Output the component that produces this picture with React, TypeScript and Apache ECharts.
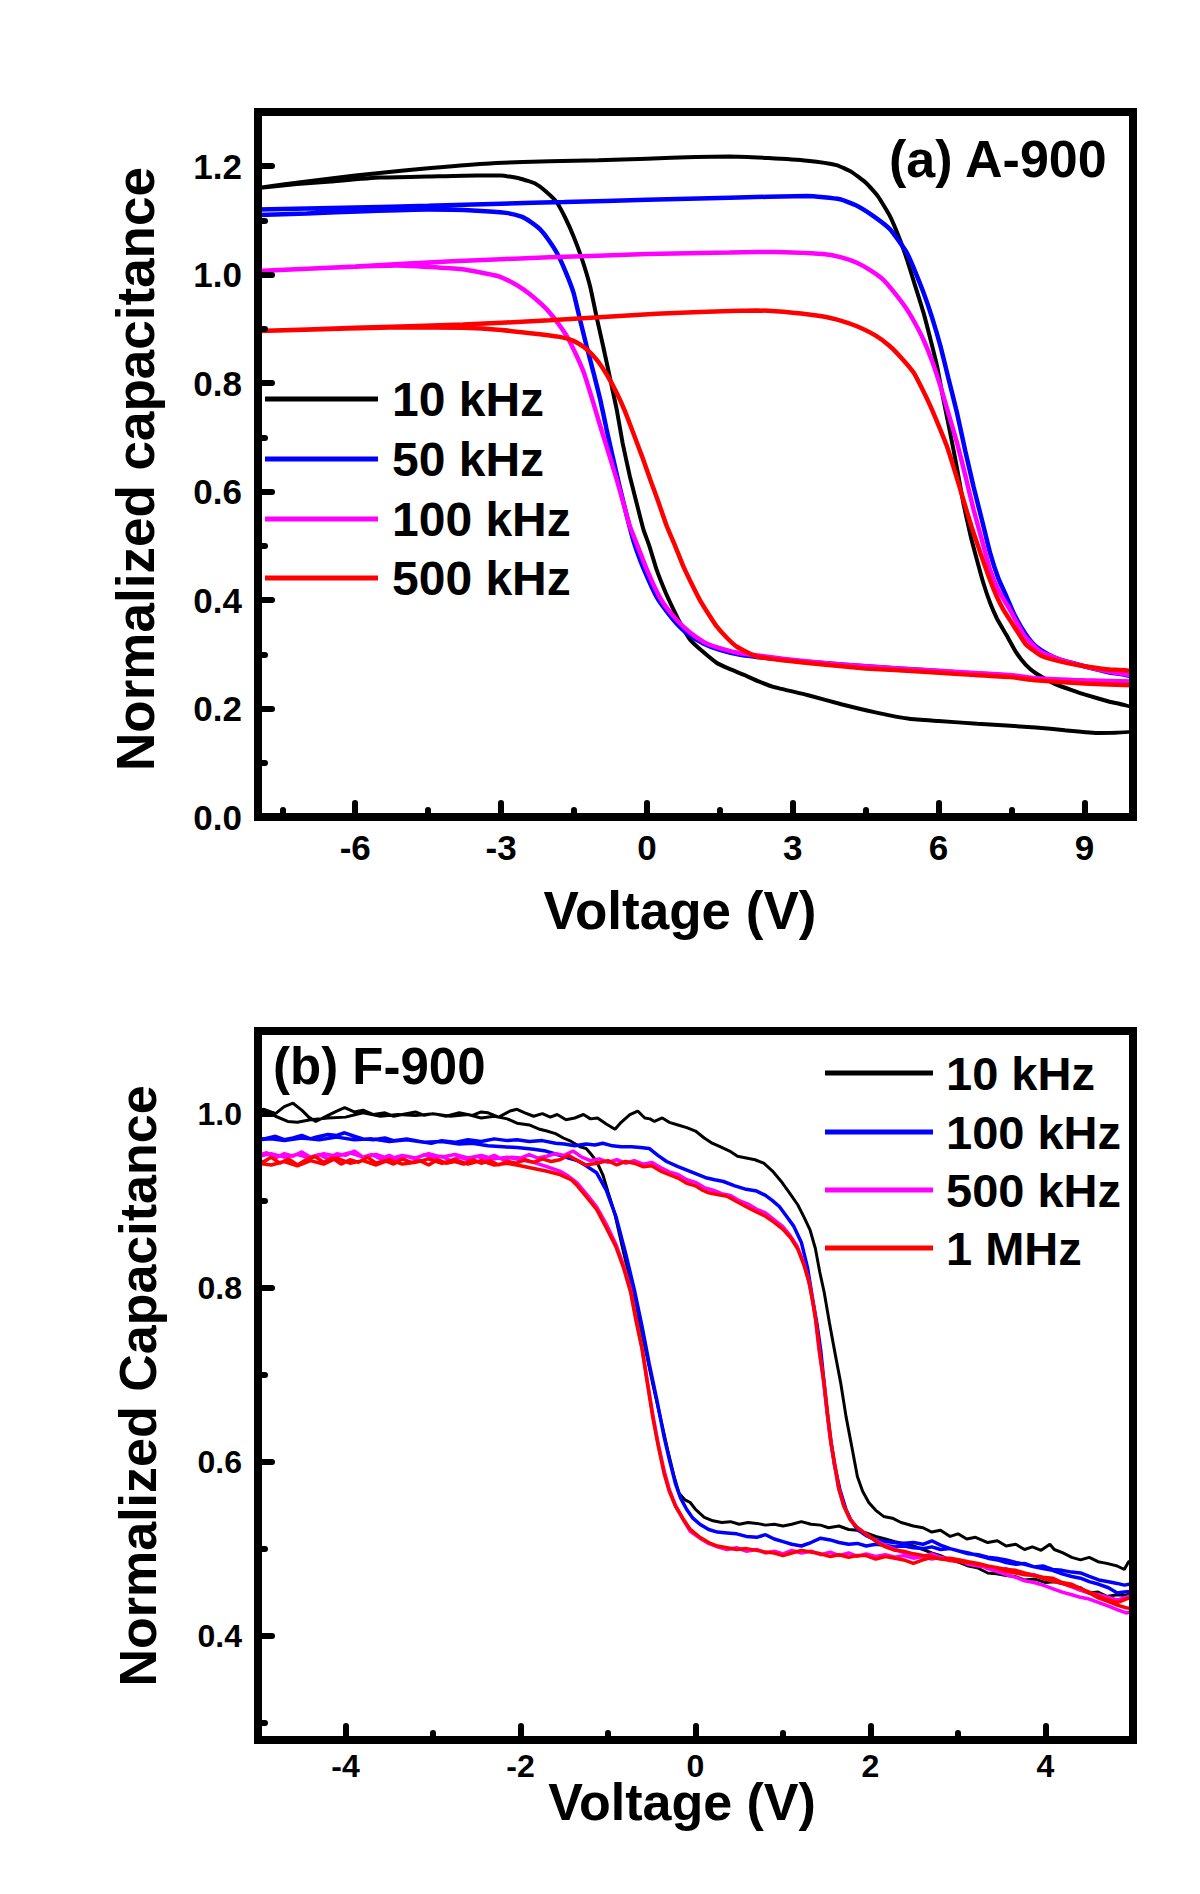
import React, { useEffect, useRef } from 'react';
import * as echarts from 'echarts';

const FONT = '"Liberation Sans", Arial, Helvetica, sans-serif';

// ---------- Panel (a) A-900 ----------
const A_X_MAJOR = [-6, -3, 0, 3, 6, 9];
const A_X_MINOR = [-7.5, -4.5, -1.5, 1.5, 4.5, 7.5];
const A_Y_MAJOR = [0, 0.2, 0.4, 0.6, 0.8, 1.0, 1.2];
const A_Y_MINOR = [0.1, 0.3, 0.5, 0.7, 0.9, 1.1];
const A_NAMES = ['10 kHz', '50 kHz', '100 kHz', '500 kHz'];

const A10_UP = [[-8,1.16],[-7,1.172],[-6,1.183],[-5,1.192],[-4,1.2],[-3.1,1.206],[-2,1.209],[-1,1.211],[0,1.214],[1,1.217],[1.7,1.218],[2.5,1.215],[3.3,1.21],[3.9,1.202],[4.2,1.19],[4.5,1.17],[4.75,1.145],[5.0,1.108],[5.2,1.066],[5.35,1.028],[5.5,0.985],[5.69,0.93],[5.85,0.875],[5.97,0.831],[6.1,0.77],[6.24,0.708],[6.38,0.643],[6.51,0.579],[6.65,0.522],[6.79,0.474],[6.92,0.432],[7.06,0.395],[7.2,0.366],[7.4,0.335],[7.6,0.303],[7.8,0.28],[8.0,0.265],[8.4,0.245],[8.8,0.232],[9.0,0.226],[9.5,0.213],[10,0.2]];
const A10_DOWN = [[10,0.158],[9.3,0.155],[8.6,0.16],[8.0,0.165],[6.8,0.172],[6.0,0.177],[5.4,0.181],[4.7,0.193],[4.0,0.208],[3.3,0.225],[2.6,0.24],[2.3,0.25],[2.0,0.262],[1.7,0.273],[1.44,0.284],[1.15,0.305],[0.89,0.327],[0.7,0.355],[0.55,0.382],[0.38,0.415],[0.2,0.456],[0.05,0.5],[-0.07,0.53],[-0.2,0.575],[-0.35,0.628],[-0.5,0.69],[-0.62,0.751],[-0.76,0.81],[-0.9,0.868],[-1.03,0.92],[-1.17,0.979],[-1.34,1.03],[-1.51,1.071],[-1.68,1.105],[-1.85,1.133],[-2.06,1.152],[-2.3,1.168],[-2.6,1.177],[-3.0,1.183],[-3.5,1.183],[-4.5,1.181],[-5.5,1.179],[-6.5,1.172],[-7.2,1.167],[-8,1.16]];

const A50_UP = [[-8,1.12],[-6,1.124],[-4.5,1.127],[-3,1.131],[-1.7,1.134],[0,1.138],[1.7,1.142],[3.3,1.145],[3.97,1.139],[4.3,1.128],[4.66,1.108],[5.0,1.084],[5.2,1.06],[5.35,1.04],[5.5,1.01],[5.69,0.967],[5.87,0.92],[6.04,0.868],[6.2,0.81],[6.38,0.745],[6.55,0.675],[6.72,0.609],[6.9,0.545],[7.06,0.487],[7.23,0.44],[7.4,0.406],[7.55,0.375],[7.7,0.35],[7.85,0.33],[8.0,0.315],[8.25,0.3],[8.5,0.29],[9.0,0.278],[9.5,0.267],[10,0.258]];
const A50_DOWN = [[10,0.245],[9.0,0.248],[8.0,0.254],[7.47,0.26],[6.5,0.266],[5.69,0.271],[4.5,0.278],[3.63,0.284],[2.8,0.29],[1.92,0.299],[1.5,0.308],[1.16,0.32],[0.85,0.337],[0.61,0.357],[0.4,0.38],[0.2,0.406],[0.03,0.438],[-0.14,0.474],[-0.28,0.51],[-0.41,0.554],[-0.55,0.605],[-0.69,0.659],[-0.83,0.715],[-0.96,0.77],[-1.1,0.82],[-1.24,0.868],[-1.37,0.915],[-1.51,0.967],[-1.68,1.007],[-1.85,1.04],[-2.03,1.065],[-2.2,1.084],[-2.4,1.098],[-2.58,1.107],[-2.9,1.114],[-3.5,1.118],[-4.5,1.12],[-5.8,1.117],[-7,1.113],[-8,1.11]];

const A100_UP = [[-8,1.007],[-6,1.015],[-4,1.025],[-2,1.032],[0,1.038],[1.7,1.041],[2.3,1.042],[3.0,1.041],[3.63,1.038],[4.0,1.032],[4.32,1.022],[4.6,1.008],[4.86,0.991],[5.1,0.966],[5.35,0.936],[5.52,0.91],[5.69,0.88],[5.87,0.84],[6.04,0.794],[6.2,0.745],[6.38,0.69],[6.55,0.63],[6.72,0.567],[6.9,0.508],[7.06,0.456],[7.25,0.415],[7.47,0.382],[7.65,0.352],[7.8,0.33],[8.1,0.305],[8.5,0.29],[9.0,0.278],[9.5,0.268],[10,0.26]];
const A100_DOWN = [[10,0.25],[9.0,0.252],[8.0,0.256],[7.47,0.262],[6.5,0.267],[5.5,0.272],[4.5,0.278],[3.63,0.284],[2.8,0.292],[1.92,0.302],[1.55,0.31],[1.23,0.32],[0.98,0.334],[0.75,0.351],[0.55,0.37],[0.34,0.394],[0.17,0.422],[0.0,0.456],[-0.17,0.495],[-0.35,0.536],[-0.48,0.578],[-0.62,0.622],[-0.79,0.672],[-0.96,0.721],[-1.13,0.772],[-1.3,0.82],[-1.47,0.855],[-1.65,0.887],[-1.85,0.913],[-2.06,0.936],[-2.3,0.956],[-2.54,0.973],[-2.8,0.987],[-3.09,0.998],[-3.8,1.01],[-5.15,1.017],[-6.5,1.013],[-8,1.007]];

const A500_UP = [[-8,0.896],[-6,0.902],[-3.78,0.908],[-2,0.916],[0.2,0.928],[1.71,0.933],[2.26,0.934],[3.0,0.93],[3.63,0.923],[4.0,0.915],[4.32,0.905],[4.7,0.888],[5.0,0.868],[5.25,0.845],[5.49,0.819],[5.66,0.79],[5.83,0.758],[6.0,0.722],[6.17,0.684],[6.34,0.636],[6.51,0.585],[6.68,0.535],[6.86,0.487],[7.03,0.444],[7.2,0.406],[7.33,0.383],[7.47,0.363],[7.65,0.338],[7.8,0.318],[8.1,0.298],[8.5,0.287],[9.0,0.278],[9.5,0.272],[10,0.268]];
const A500_DOWN = [[10,0.243],[9.0,0.246],[8.0,0.252],[7.47,0.258],[6.5,0.263],[5.69,0.268],[4.5,0.274],[3.63,0.281],[2.8,0.289],[2.26,0.296],[1.85,0.314],[1.65,0.33],[1.44,0.351],[1.27,0.374],[1.09,0.4],[0.92,0.43],[0.75,0.462],[0.58,0.5],[0.41,0.536],[0.24,0.58],[0.07,0.622],[-0.1,0.665],[-0.28,0.708],[-0.45,0.748],[-0.62,0.782],[-0.82,0.815],[-1.03,0.843],[-1.27,0.865],[-1.51,0.878],[-1.72,0.884],[-2.2,0.89],[-3,0.898],[-3.78,0.902],[-5,0.903],[-6.5,0.9],[-8,0.896]];

// ---------- Panel (b) F-900 ----------
const B_X_MAJOR = [-4, -2, 0, 2, 4];
const B_X_MINOR = [-3, -1, 1, 3];
const B_Y_MAJOR = [0.4, 0.6, 0.8, 1.0];
const B_Y_MINOR = [0.3, 0.5, 0.7, 0.9];
const B_NAMES = ['10 kHz', '100 kHz', '500 kHz', '1 MHz'];

const B10_UP = [[-5,1.003],[-4.93,1.005],[-4.8,1.0],[-4.7,1.008],[-4.6,1.012],[-4.5,1.004],[-4.42,0.996],[-4.34,0.991],[-4.2,0.998],[-4.1,1.003],[-4.01,1.007],[-3.9,1.002],[-3.8,1.004],[-3.68,0.999],[-3.55,1.001],[-3.45,0.997],[-3.35,0.999],[-3.2,1.002],[-3.1,0.998],[-3.0,1.0],[-2.85,0.997],[-2.7,1.001],[-2.55,0.998],[-2.45,1.002],[-2.37,1.001],[-2.25,0.996],[-2.12,1.003],[-2.04,1.005],[-1.95,1.001],[-1.85,0.997],[-1.75,1.0],[-1.66,0.996],[-1.58,0.999],[-1.48,0.993],[-1.38,0.995],[-1.28,0.999],[-1.2,0.994],[-1.12,0.995],[-1.02,0.988],[-0.92,0.982],[-0.85,0.99],[-0.75,0.999],[-0.66,1.003],[-0.58,0.995],[-0.52,0.994],[-0.47,0.991],[-0.38,0.995],[-0.3,0.99],[-0.2,0.987],[-0.1,0.984],[0.0,0.98],[0.1,0.972],[0.19,0.966],[0.28,0.962],[0.39,0.957],[0.48,0.951],[0.58,0.949],[0.68,0.947],[0.78,0.943],[0.88,0.934],[0.98,0.922],[1.08,0.908],[1.17,0.895],[1.24,0.881],[1.31,0.866],[1.37,0.845],[1.42,0.818],[1.47,0.795],[1.53,0.76],[1.59,0.727],[1.66,0.69],[1.72,0.652],[1.79,0.615],[1.85,0.583],[1.91,0.566],[1.98,0.553],[2.06,0.544],[2.15,0.537],[2.25,0.535],[2.35,0.53],[2.49,0.526],[2.6,0.524],[2.7,0.519],[2.8,0.521],[2.91,0.514],[3.0,0.517],[3.1,0.511],[3.2,0.513],[3.34,0.507],[3.45,0.509],[3.55,0.503],[3.66,0.505],[3.76,0.499],[3.85,0.502],[3.95,0.498],[4.05,0.505],[4.1,0.499],[4.2,0.495],[4.3,0.49],[4.4,0.487],[4.5,0.49],[4.6,0.485],[4.7,0.483],[4.82,0.48],[4.9,0.476],[4.95,0.485],[5.0,0.486]];
const B10_DOWN = [[5.0,0.453],[4.92,0.446],[4.82,0.447],[4.7,0.445],[4.6,0.45],[4.49,0.449],[4.4,0.455],[4.3,0.457],[4.19,0.46],[4.1,0.462],[4.0,0.461],[3.88,0.465],[3.76,0.464],[3.65,0.468],[3.55,0.469],[3.44,0.471],[3.34,0.472],[3.22,0.478],[3.12,0.48],[3.02,0.484],[2.91,0.487],[2.8,0.492],[2.7,0.495],[2.6,0.499],[2.49,0.503],[2.38,0.506],[2.28,0.508],[2.17,0.511],[2.06,0.514],[1.95,0.518],[1.85,0.521],[1.75,0.522],[1.64,0.526],[1.52,0.524],[1.43,0.527],[1.32,0.528],[1.21,0.531],[1.1,0.528],[1.0,0.526],[0.9,0.528],[0.8,0.527],[0.7,0.529],[0.6,0.53],[0.5,0.528],[0.4,0.531],[0.3,0.53],[0.2,0.532],[0.1,0.536],[0.0,0.545],[-0.06,0.553],[-0.12,0.556],[-0.19,0.564],[-0.25,0.585],[-0.32,0.614],[-0.4,0.65],[-0.49,0.69],[-0.57,0.728],[-0.66,0.767],[-0.74,0.806],[-0.83,0.844],[-0.92,0.884],[-1.0,0.91],[-1.06,0.93],[-1.13,0.945],[-1.19,0.953],[-1.25,0.96],[-1.32,0.962],[-1.42,0.968],[-1.51,0.972],[-1.6,0.977],[-1.7,0.98],[-1.78,0.982],[-1.9,0.987],[-2.04,0.989],[-2.15,0.994],[-2.3,0.997],[-2.45,0.995],[-2.6,0.999],[-2.8,0.997],[-3.0,1.0],[-3.2,0.998],[-3.4,0.999],[-3.6,0.997],[-3.8,1.001],[-4.0,0.996],[-4.2,0.995],[-4.4,0.993],[-4.55,0.99],[-4.66,0.991],[-4.8,0.997],[-4.9,1.002],[-5.0,1.003]];

const B100_UP = [[-5,0.972],[-4.93,0.971],[-4.8,0.974],[-4.7,0.97],[-4.6,0.972],[-4.5,0.975],[-4.4,0.971],[-4.34,0.973],[-4.2,0.976],[-4.1,0.975],[-4.01,0.978],[-3.9,0.974],[-3.8,0.971],[-3.68,0.97],[-3.55,0.972],[-3.45,0.969],[-3.3,0.971],[-3.15,0.968],[-3.02,0.966],[-2.9,0.969],[-2.75,0.967],[-2.6,0.97],[-2.45,0.968],[-2.3,0.971],[-2.15,0.969],[-2.04,0.97],[-1.9,0.968],[-1.75,0.969],[-1.6,0.966],[-1.5,0.965],[-1.38,0.963],[-1.25,0.965],[-1.15,0.964],[-1.06,0.966],[-0.95,0.963],[-0.85,0.962],[-0.73,0.962],[-0.63,0.961],[-0.53,0.96],[-0.43,0.952],[-0.33,0.945],[-0.2,0.939],[-0.07,0.934],[0.03,0.93],[0.13,0.926],[0.22,0.924],[0.32,0.922],[0.45,0.917],[0.58,0.913],[0.7,0.911],[0.8,0.906],[0.88,0.9],[0.96,0.893],[1.04,0.882],[1.12,0.871],[1.21,0.852],[1.28,0.823],[1.34,0.786],[1.39,0.757],[1.43,0.729],[1.47,0.69],[1.51,0.652],[1.55,0.622],[1.59,0.595],[1.65,0.568],[1.72,0.545],[1.78,0.532],[1.85,0.522],[1.95,0.515],[2.06,0.51],[2.2,0.508],[2.35,0.506],[2.49,0.507],[2.6,0.505],[2.7,0.509],[2.8,0.504],[2.91,0.5],[3.02,0.497],[3.12,0.495],[3.23,0.492],[3.34,0.489],[3.45,0.487],[3.55,0.484],[3.66,0.482],[3.76,0.483],[3.87,0.479],[3.97,0.48],[4.08,0.476],[4.19,0.475],[4.3,0.473],[4.4,0.472],[4.5,0.468],[4.61,0.464],[4.72,0.462],[4.82,0.46],[4.9,0.458],[5.0,0.46]];
const B100_DOWN = [[5.0,0.451],[4.9,0.45],[4.82,0.449],[4.72,0.455],[4.61,0.459],[4.5,0.462],[4.4,0.466],[4.3,0.468],[4.19,0.471],[4.08,0.475],[3.97,0.477],[3.87,0.479],[3.76,0.482],[3.66,0.484],[3.55,0.487],[3.44,0.489],[3.34,0.49],[3.23,0.493],[3.12,0.494],[3.02,0.497],[2.91,0.5],[2.8,0.499],[2.7,0.502],[2.6,0.5],[2.49,0.501],[2.38,0.503],[2.28,0.502],[2.17,0.504],[2.06,0.505],[1.95,0.503],[1.85,0.506],[1.75,0.505],[1.64,0.507],[1.54,0.51],[1.43,0.512],[1.32,0.507],[1.21,0.503],[1.1,0.505],[1.0,0.508],[0.9,0.511],[0.8,0.516],[0.7,0.513],[0.58,0.514],[0.47,0.517],[0.36,0.518],[0.25,0.519],[0.15,0.522],[0.05,0.528],[-0.03,0.535],[-0.1,0.545],[-0.17,0.558],[-0.23,0.575],[-0.3,0.603],[-0.36,0.629],[-0.44,0.67],[-0.53,0.713],[-0.61,0.755],[-0.7,0.798],[-0.8,0.84],[-0.91,0.882],[-1.02,0.912],[-1.13,0.932],[-1.25,0.94],[-1.35,0.946],[-1.45,0.949],[-1.58,0.953],[-1.71,0.957],[-1.85,0.959],[-2.04,0.961],[-2.2,0.962],[-2.37,0.963],[-2.55,0.966],[-2.7,0.965],[-2.9,0.968],[-3.1,0.967],[-3.3,0.97],[-3.5,0.968],[-3.7,0.971],[-3.9,0.97],[-4.1,0.973],[-4.3,0.97],[-4.5,0.972],[-4.7,0.969],[-4.85,0.971],[-5.0,0.97]];

const B500_UP = [[-5,0.952],[-4.9,0.955],[-4.8,0.949],[-4.7,0.954],[-4.6,0.951],[-4.5,0.956],[-4.4,0.95],[-4.3,0.953],[-4.2,0.948],[-4.1,0.954],[-4.0,0.952],[-3.9,0.957],[-3.8,0.95],[-3.7,0.953],[-3.6,0.948],[-3.5,0.952],[-3.4,0.947],[-3.3,0.951],[-3.2,0.948],[-3.1,0.953],[-3.0,0.949],[-2.9,0.951],[-2.8,0.946],[-2.7,0.95],[-2.6,0.947],[-2.5,0.951],[-2.4,0.948],[-2.3,0.952],[-2.2,0.947],[-2.1,0.95],[-2.0,0.949],[-1.9,0.953],[-1.8,0.949],[-1.7,0.951],[-1.6,0.954],[-1.5,0.952],[-1.4,0.957],[-1.3,0.95],[-1.2,0.946],[-1.1,0.948],[-1.0,0.944],[-0.9,0.947],[-0.8,0.943],[-0.7,0.946],[-0.6,0.942],[-0.5,0.944],[-0.4,0.938],[-0.3,0.933],[-0.2,0.93],[-0.1,0.924],[0.0,0.921],[0.1,0.915],[0.2,0.912],[0.3,0.908],[0.4,0.906],[0.5,0.9],[0.6,0.896],[0.7,0.89],[0.8,0.886],[0.9,0.878],[1.0,0.87],[1.08,0.86],[1.16,0.848],[1.23,0.83],[1.29,0.81],[1.33,0.79],[1.37,0.765],[1.41,0.73],[1.46,0.695],[1.5,0.66],[1.54,0.626],[1.59,0.596],[1.63,0.572],[1.69,0.55],[1.76,0.535],[1.84,0.525],[1.92,0.519],[2.03,0.511],[2.14,0.505],[2.26,0.5],[2.38,0.495],[2.49,0.493],[2.6,0.491],[2.7,0.494],[2.8,0.49],[2.91,0.486],[3.02,0.486],[3.12,0.482],[3.23,0.48],[3.34,0.479],[3.45,0.476],[3.55,0.477],[3.66,0.473],[3.76,0.471],[3.87,0.47],[3.97,0.466],[4.08,0.463],[4.19,0.46],[4.3,0.456],[4.4,0.452],[4.5,0.449],[4.61,0.447],[4.72,0.444],[4.82,0.441],[4.92,0.444],[5.0,0.447]];
const B500_DOWN = [[5.0,0.428],[4.92,0.426],[4.82,0.43],[4.72,0.434],[4.61,0.438],[4.5,0.442],[4.4,0.444],[4.3,0.447],[4.19,0.45],[4.08,0.454],[3.97,0.458],[3.87,0.461],[3.76,0.463],[3.66,0.467],[3.55,0.47],[3.44,0.474],[3.34,0.477],[3.23,0.481],[3.12,0.483],[3.02,0.486],[2.91,0.488],[2.8,0.49],[2.7,0.488],[2.6,0.491],[2.49,0.489],[2.38,0.492],[2.28,0.49],[2.17,0.493],[2.06,0.491],[1.95,0.494],[1.85,0.491],[1.75,0.495],[1.64,0.492],[1.54,0.496],[1.43,0.493],[1.32,0.497],[1.21,0.495],[1.1,0.498],[1.0,0.494],[0.9,0.497],[0.8,0.495],[0.7,0.499],[0.58,0.497],[0.47,0.501],[0.36,0.499],[0.25,0.502],[0.15,0.506],[0.05,0.512],[-0.06,0.52],[-0.14,0.533],[-0.23,0.55],[-0.3,0.568],[-0.36,0.59],[-0.43,0.622],[-0.49,0.655],[-0.55,0.692],[-0.61,0.73],[-0.68,0.765],[-0.74,0.797],[-0.82,0.825],[-0.91,0.85],[-1.02,0.873],[-1.13,0.893],[-1.25,0.908],[-1.35,0.92],[-1.45,0.928],[-1.55,0.934],[-1.7,0.939],[-1.85,0.944],[-2.0,0.947],[-2.15,0.95],[-2.3,0.948],[-2.45,0.952],[-2.6,0.949],[-2.75,0.953],[-2.9,0.95],[-3.05,0.954],[-3.2,0.949],[-3.35,0.952],[-3.5,0.948],[-3.65,0.953],[-3.8,0.95],[-3.95,0.955],[-4.1,0.951],[-4.25,0.954],[-4.4,0.949],[-4.55,0.953],[-4.7,0.95],[-4.85,0.954],[-5.0,0.951]];

const B1M_UP = [[-5,0.944],[-4.93,0.945],[-4.85,0.95],[-4.75,0.943],[-4.65,0.948],[-4.55,0.941],[-4.45,0.947],[-4.35,0.951],[-4.25,0.944],[-4.15,0.949],[-4.05,0.942],[-3.95,0.947],[-3.85,0.944],[-3.75,0.95],[-3.65,0.943],[-3.55,0.946],[-3.45,0.942],[-3.35,0.948],[-3.25,0.944],[-3.15,0.946],[-3.05,0.941],[-2.95,0.947],[-2.85,0.943],[-2.75,0.945],[-2.65,0.942],[-2.55,0.947],[-2.45,0.943],[-2.35,0.946],[-2.25,0.941],[-2.15,0.945],[-2.05,0.943],[-1.95,0.947],[-1.85,0.944],[-1.75,0.948],[-1.65,0.945],[-1.55,0.947],[-1.45,0.952],[-1.35,0.946],[-1.25,0.941],[-1.13,0.943],[-1.0,0.946],[-0.9,0.941],[-0.8,0.945],[-0.7,0.943],[-0.6,0.939],[-0.5,0.94],[-0.4,0.934],[-0.3,0.93],[-0.2,0.926],[-0.1,0.92],[0.0,0.917],[0.08,0.912],[0.15,0.909],[0.25,0.907],[0.36,0.905],[0.47,0.899],[0.58,0.893],[0.68,0.888],[0.8,0.882],[0.9,0.875],[1.0,0.867],[1.09,0.857],[1.17,0.844],[1.24,0.826],[1.3,0.805],[1.34,0.784],[1.38,0.759],[1.42,0.725],[1.47,0.69],[1.51,0.655],[1.55,0.621],[1.6,0.592],[1.64,0.568],[1.7,0.548],[1.77,0.533],[1.85,0.524],[1.93,0.518],[2.04,0.51],[2.15,0.503],[2.28,0.498],[2.38,0.497],[2.49,0.494],[2.6,0.492],[2.7,0.491],[2.8,0.488],[2.91,0.487],[3.02,0.485],[3.12,0.484],[3.23,0.482],[3.34,0.48],[3.45,0.478],[3.55,0.476],[3.66,0.475],[3.76,0.472],[3.87,0.469],[3.97,0.467],[4.08,0.466],[4.19,0.461],[4.3,0.459],[4.4,0.454],[4.5,0.45],[4.61,0.445],[4.72,0.441],[4.82,0.438],[4.92,0.442],[5.0,0.445]];
const B1M_DOWN = [[5.0,0.431],[4.92,0.432],[4.82,0.435],[4.72,0.439],[4.61,0.443],[4.5,0.449],[4.4,0.454],[4.3,0.457],[4.19,0.46],[4.08,0.463],[3.97,0.466],[3.87,0.469],[3.76,0.47],[3.66,0.472],[3.55,0.474],[3.44,0.478],[3.34,0.48],[3.23,0.483],[3.12,0.485],[3.02,0.487],[2.91,0.489],[2.8,0.488],[2.7,0.49],[2.6,0.487],[2.49,0.483],[2.38,0.487],[2.28,0.489],[2.17,0.491],[2.06,0.488],[1.95,0.492],[1.85,0.492],[1.75,0.49],[1.64,0.493],[1.54,0.491],[1.43,0.494],[1.32,0.496],[1.21,0.498],[1.1,0.495],[1.0,0.492],[0.9,0.495],[0.8,0.496],[0.7,0.498],[0.58,0.5],[0.47,0.499],[0.36,0.501],[0.25,0.503],[0.15,0.507],[0.05,0.513],[-0.06,0.522],[-0.14,0.534],[-0.23,0.549],[-0.3,0.566],[-0.36,0.587],[-0.43,0.62],[-0.49,0.652],[-0.55,0.69],[-0.61,0.729],[-0.68,0.762],[-0.74,0.794],[-0.82,0.822],[-0.91,0.847],[-1.02,0.869],[-1.13,0.89],[-1.25,0.905],[-1.35,0.917],[-1.42,0.924],[-1.55,0.93],[-1.71,0.934],[-1.85,0.937],[-2.0,0.94],[-2.15,0.943],[-2.3,0.941],[-2.45,0.946],[-2.6,0.942],[-2.75,0.947],[-2.9,0.943],[-3.05,0.948],[-3.2,0.944],[-3.35,0.942],[-3.5,0.947],[-3.65,0.941],[-3.8,0.946],[-3.95,0.943],[-4.1,0.949],[-4.25,0.942],[-4.4,0.946],[-4.55,0.94],[-4.7,0.945],[-4.85,0.941],[-5.0,0.943]];

const COLORS = ['#000000', '#0000ff', '#ff00ff', '#ff0000'];

const A_DATA = [
  [...A10_UP, ...A10_DOWN],
  [...A50_UP, ...A50_DOWN],
  [...A100_UP, ...A100_DOWN],
  [...A500_UP, ...A500_DOWN],
];
const B_DATA = [
  [...B10_UP, ...B10_DOWN],
  [...B100_UP, ...B100_DOWN],
  [...B500_UP, ...B500_DOWN],
  [...B1M_UP, ...B1M_DOWN],
];

function lineAxis(gridIndex: number, min: number, max: number, position: string) {
  return {
    type: 'value', gridIndex, min, max, position, z: 10,
    axisLine: { show: true, onZero: false, lineStyle: { color: '#000', width: 8, cap: 'square' } },
    axisTick: { show: false }, axisLabel: { show: false }, splitLine: { show: false },
  };
}
function majorAxis(gridIndex: number, min: number, max: number, position: string, values: number[],
  fontSize: number, margin: number, fmt: (v: number) => string) {
  return {
    type: 'value', gridIndex, min, max, position, z: 10,
    axisLine: { show: true, onZero: false, lineStyle: { color: '#000', width: 8, cap: 'square' } },
    axisTick: { show: true, inside: true, length: 14, customValues: values, lineStyle: { color: '#000', width: 6, cap: 'round' } },
    axisLabel: { show: true, customValues: values, margin, color: '#000', fontSize, fontWeight: 'bold', fontFamily: FONT, formatter: fmt },
    splitLine: { show: false },
  };
}
function minorAxis(gridIndex: number, min: number, max: number, position: string, values: number[]) {
  return {
    type: 'value', gridIndex, min, max, position, z: 10,
    axisLine: { show: false, onZero: false },
    axisTick: { show: true, inside: true, length: 7, customValues: values, lineStyle: { color: '#000', width: 6, cap: 'round' } },
    axisLabel: { show: false }, splitLine: { show: false },
  };
}

const fmtInt = (v: number) => String(Math.round(v));
const fmt1 = (v: number) => v.toFixed(1);

function txt(text: string, x: number, y: number, size: number, align: string, rotation = 0) {
  return {
    type: 'text', x, y, rotation, z: 20,
    style: {
      text, fill: '#000', fontSize: size, fontWeight: 'bold', fontFamily: FONT,
      textAlign: align, textVerticalAlign: 'middle', align, verticalAlign: 'middle',
    },
  };
}
function legLine(x1: number, x2: number, y: number, color: string) {
  return { type: 'line', z: 20, shape: { x1, y1: y, x2, y2: y }, style: { stroke: color, lineWidth: 5 } };
}

export default function App() {
  const ref = useRef<HTMLDivElement>(null);
  useEffect(() => {
    if (!ref.current) return;
    const chart = echarts.init(ref.current, null, { renderer: 'svg' });
    const A_LEG_Y = [399, 459, 519, 578];
    const B_LEG_Y = [1073, 1132, 1190, 1248];
    const series: any[] = [];
    A_DATA.forEach((d, i) => series.push({
      type: 'line', name: A_NAMES[i], xAxisIndex: 0, yAxisIndex: 0, data: d,
      showSymbol: false, symbol: 'none', smooth: 0.15, z: 2,
      lineStyle: { color: COLORS[i], width: i === 0 ? 4 : 4.5 }, itemStyle: { color: COLORS[i] },
    }));
    B_DATA.forEach((d, i) => series.push({
      type: 'line', name: B_NAMES[i], xAxisIndex: 3, yAxisIndex: 3, data: d,
      showSymbol: false, symbol: 'none', z: 2,
      lineStyle: { color: COLORS[i], width: i === 0 ? 3 : 3.5 }, itemStyle: { color: COLORS[i] },
    }));
    const graphic: any[] = [
      txt('(a) A-900', 889, 159, 52, 'left'),
      txt('(b) F-900', 273, 1066, 51, 'left'),
      txt('Voltage (V)', 680, 910, 53, 'center'),
      txt('Voltage (V)', 682, 1802, 52, 'center'),
      txt('Normalized capacitance', 135, 469, 53, 'center', Math.PI / 2),
      txt('Normalized Capacitance', 138, 1386, 52, 'center', Math.PI / 2),
    ];
    A_NAMES.forEach((n, i) => {
      graphic.push(legLine(265, 378, A_LEG_Y[i], COLORS[i]));
      graphic.push(txt(n, 392, A_LEG_Y[i], 48, 'left'));
    });
    B_NAMES.forEach((n, i) => {
      graphic.push(legLine(825, 933, B_LEG_Y[i], COLORS[i]));
      graphic.push(txt(n, 946, B_LEG_Y[i], 47, 'left'));
    });
    chart.setOption({
      animation: false,
      backgroundColor: '#ffffff',
      grid: [
        { left: 258, top: 112, width: 875, height: 705, outerBoundsMode: 'none', containLabel: false },
        { left: 258, top: 1031, width: 875, height: 709, outerBoundsMode: 'none', containLabel: false },
      ],
      xAxis: [
        majorAxis(0, -8, 10, 'bottom', A_X_MAJOR, 35, 13, fmtInt),
        minorAxis(0, -8, 10, 'bottom', A_X_MINOR),
        lineAxis(0, -8, 10, 'top'),
        majorAxis(1, -5, 5, 'bottom', B_X_MAJOR, 32, 10, fmtInt),
        minorAxis(1, -5, 5, 'bottom', B_X_MINOR),
        lineAxis(1, -5, 5, 'top'),
      ],
      yAxis: [
        majorAxis(0, 0, 1.3, 'left', A_Y_MAJOR, 35, 16, fmt1),
        minorAxis(0, 0, 1.3, 'left', A_Y_MINOR),
        lineAxis(0, 0, 1.3, 'right'),
        majorAxis(1, 0.28, 1.095, 'left', B_Y_MAJOR, 32, 16, fmt1),
        minorAxis(1, 0.28, 1.095, 'left', B_Y_MINOR),
        lineAxis(1, 0.28, 1.095, 'right'),
      ],
      series,
      graphic,
    });
    return () => chart.dispose();
  }, []);
  return (
    <div
      ref={ref}
      style={{ position: 'absolute', left: 0, top: 0, width: 1200, height: 1894, background: '#fff' }}
    />
  );
}
